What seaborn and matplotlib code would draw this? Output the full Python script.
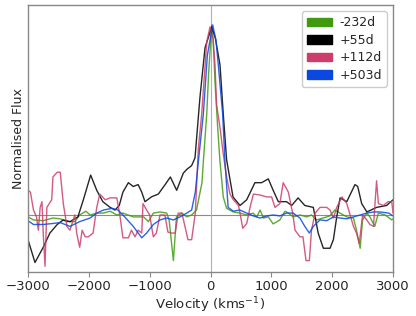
import numpy as np
import pandas as pd
import matplotlib
matplotlib.use("Agg")
import matplotlib.pyplot as plt
from matplotlib.patches import Patch
import seaborn as sns

epochs = ["-232d", "+55d", "+112d", "+503d"]
colors = ["#3f9a10", "#000000", "#cc3d6b", "#0b48e0"]

v_green = [-3000, -2910, -2750, -2590, -2470, -2360, -2230, -2150, -2050, -1980, -1870, -1760,
           -1650, -1540, -1440, -1270, -1100, -1020, -940, -830, -720, -680, -610, -560, -470,
           -390, -310, -230, -140, -118, -62, -30, 20, 45, 74, 120, 156, 210, 265, 375, 485,
           595, 700, 760, 815, 870, 950, 1030, 1140, 1225, 1280, 1360, 1470, 1580, 1660, 1745,
           1850, 1960, 2045, 2130, 2240, 2350, 2400, 2460, 2500, 2570, 2620, 2700, 2760, 2870,
           2980, 3000]
f_green = [-0.01, -0.026, -0.03, -0.016, -0.02, -0.035, -0.035, 0.0, 0.02, 0.0, 0.01, 0.01,
           0.02, 0.0, 0.01, -0.01, -0.01, -0.035, 0.01, 0.016, 0.01, -0.026, -0.24, -0.01,
           0.01, -0.01, 0.0, 0.026, 0.17, 0.28, 0.53, 0.75, 1.0, 0.92, 0.7, 0.45, 0.28, 0.095,
           0.035, 0.016, 0.01, 0.0, 0.01, -0.01, 0.026, -0.016, -0.01, -0.047, -0.026, 0.02,
           0.01, -0.01, 0.0, -0.01, 0.0, -0.026, -0.016, -0.005, 0.026, 0.01, -0.01, -0.016,
           -0.08, -0.175, -0.026, 0.01, -0.01, -0.06, 0.01, 0.0, -0.026, -0.02]

v_black = [-3000, -2885, -2750, -2640, -2520, -2420, -2310, -2180, -2090, -1970, -1870, -1770,
           -1650, -1570, -1500, -1440, -1350, -1270, -1190, -1130, -1077, -967, -858, -750,
           -660, -556, -447, -390, -310, -255, -173, -90, 20, 80, 156, 210, 265, 370, 485, 595,
           730, 840, 950, 1030, 1115, 1250, 1335, 1440, 1550, 1690, 1770, 1855, 1965, 2020,
           2075, 2130, 2240, 2375, 2420, 2485, 2570, 2730, 2895, 3000]
f_black = [-0.13, -0.25, -0.17, -0.095, -0.05, -0.026, -0.035, -0.01, 0.08, 0.21, 0.13, 0.07,
           0.04, 0.026, 0.05, 0.12, 0.17, 0.15, 0.16, 0.12, 0.07, 0.096, 0.11, 0.158, 0.2,
           0.13, 0.22, 0.24, 0.26, 0.3, 0.62, 0.88, 0.99, 0.93, 0.79, 0.53, 0.29, 0.095, 0.05,
           0.08, 0.17, 0.17, 0.19, 0.13, 0.07, 0.07, 0.05, 0.09, 0.05, 0.04, -0.095, -0.175,
           -0.175, -0.13, -0.01, 0.09, 0.07, 0.16, 0.15, 0.06, 0.016, 0.04, 0.05, 0.08]

v_red = [-3000, -2960, -2910, -2860, -2830, -2800, -2770, -2750, -2720, -2690, -2610, -2590,
         -2520, -2470, -2420, -2360, -2310, -2230, -2200, -2150, -2110, -2060, -2010, -1930,
         -1870, -1820, -1730, -1650, -1540, -1490, -1440, -1350, -1300, -1240, -1190, -1130,
         -1110, -1050, -1000, -940, -890, -830, -750, -700, -640, -580, -530, -470, -420,
         -370, -310, -250, -200, -145, -62, -8, 40, 74, 100, 156, 210, 265, 320, 375, 460,
         485, 530, 595, 650, 705, 815, 925, 1005, 1060, 1140, 1195, 1280, 1350, 1390, 1470,
         1520, 1570, 1625, 1660, 1720, 1800, 1910, 1965, 2020, 2075, 2160, 2240, 2295, 2350,
         2400, 2445, 2500, 2570, 2620, 2680, 2700, 2730, 2760, 2840, 2920, 2980, 3000]
f_red = [0.13, 0.12, 0.026, -0.01, -0.08, 0.04, 0.07, -0.095, -0.27, 0.04, 0.08, 0.2, 0.225,
         0.225, 0.06, -0.06, -0.08, 0.0, -0.095, -0.17, -0.08, -0.115, -0.115, -0.095, 0.04,
         0.11, 0.08, 0.09, 0.09, 0.0, -0.12, -0.12, -0.08, -0.115, -0.08, -0.095, 0.06,
         0.026, 0.0, -0.115, -0.095, 0.0, 0.0, -0.09, -0.095, -0.095, 0.01, 0.01, -0.06,
         -0.13, -0.13, 0.01, 0.35, 0.53, 0.91, 0.99, 0.93, 0.79, 0.58, 0.46, 0.32, 0.2, 0.11,
         0.08, 0.05, 0.01, -0.07, -0.045, 0.04, 0.11, 0.105, 0.095, 0.095, 0.04, 0.06, 0.17,
         0.12, 0.01, -0.08, -0.115, -0.115, -0.24, -0.24, -0.08, 0.01, 0.04, 0.04, 0.026,
         -0.016, 0.04, 0.095, 0.06, 0.0, -0.06, -0.095, -0.15, 0.0, -0.026, -0.05, -0.06,
         0.04, 0.18, 0.06, 0.05, 0.07, 0.07, 0.01]

v_blue = [-3000, -2910, -2750, -2600, -2470, -2310, -2150, -1980, -1870, -1760, -1620, -1520,
          -1410, -1270, -1130, -1050, -940, -830, -720, -610, -500, -390, -310, -250, -200,
          -118, -52, 36, 90, 128, 200, 238, 290, 375, 485, 595, 705, 815, 925, 1030, 1140,
          1250, 1360, 1470, 1550, 1625, 1690, 1800, 1910, 2020, 2130, 2240, 2350, 2460, 2570,
          2680, 2790, 2930, 3000]
f_blue = [-0.03, -0.05, -0.05, -0.045, -0.04, -0.06, -0.035, -0.016, 0.01, 0.026, 0.035,
          0.026, -0.01, -0.06, -0.12, -0.095, -0.05, -0.026, -0.016, -0.026, -0.01, 0.01,
          0.026, 0.12, 0.28, 0.53, 0.84, 1.0, 0.92, 0.79, 0.53, 0.28, 0.04, 0.02, 0.026, 0.01,
          -0.005, -0.016, -0.005, 0.0, -0.005, 0.01, 0.01, -0.016, -0.06, -0.095, -0.06,
          -0.026, -0.03, -0.01, -0.016, -0.02, -0.01, 0.0, 0.01, 0.016, 0.016, 0.01, -0.005]

series = [(v_green, f_green), (v_black, f_black), (v_red, f_red), (v_blue, f_blue)]
frames = []
for (v, f), ep in zip(series, epochs):
    frames.append(pd.DataFrame({"Velocity": v, "Flux": f, "Epoch": ep}))
df = pd.concat(frames, ignore_index=True)

sns.set_style("white")
plt.rcParams["font.family"] = ["DejaVu Sans"]

fig = plt.figure(figsize=(4.16, 3.16), dpi=100)
ax = fig.add_axes([28 / 416, 1 - 272 / 316, (393 - 28) / 416, (272 - 5) / 316])

ax.axhline(0, color="#8c8c8c", lw=0.8, zorder=1)
ax.axvline(0, color="#a9aed0", lw=0.8, zorder=1)

sns.lineplot(data=df, x="Velocity", y="Flux", hue="Epoch", hue_order=epochs,
             palette=dict(zip(epochs, colors)), estimator=None, sort=False,
             lw=1.0, alpha=0.85, legend=False, ax=ax)

ax.set_xlim(-3000, 3000)
ax.set_ylim(-0.3, 1.105)
ax.set_yticks([])
ax.set_xticks([-3000, -2000, -1000, 0, 1000, 2000, 3000])
ax.tick_params(axis="x", direction="out", length=3.5, width=0.8, color="#888888",
               labelsize=9.5, pad=2, bottom=True)
for s in ax.spines.values():
    s.set_color("#888888")
    s.set_linewidth(1.0)
ax.set_xlabel("Velocity (kms$^{-1}$)", fontsize=9.5, labelpad=2)
ax.set_ylabel("Normalised Flux", fontsize=9, labelpad=2.5)

handles = [Patch(facecolor=c, edgecolor=c, label=e) for c, e in zip(colors, epochs)]
ax.legend(handles=handles, loc="upper right", fontsize=9, frameon=True,
          handlelength=2.0, handleheight=0.7, borderpad=0.4, labelspacing=0.36,
          handletextpad=0.6, edgecolor="#cccccc", framealpha=1.0, borderaxespad=0.5)

fig.savefig("out.png", dpi=100)
